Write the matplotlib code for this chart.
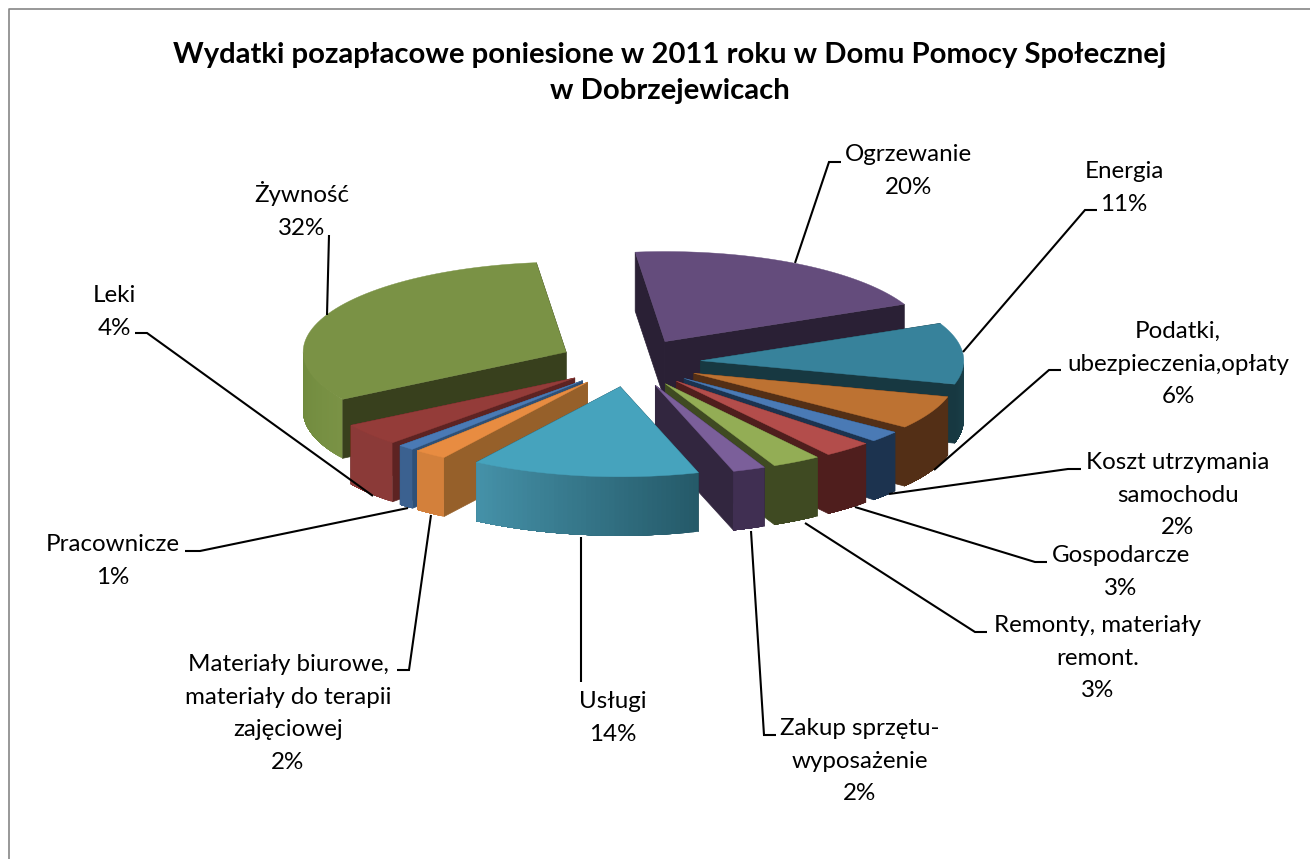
import numpy as np
import matplotlib
matplotlib.use("Agg")
import matplotlib.pyplot as plt
from matplotlib.colors import to_rgb
from matplotlib.patches import Polygon

plt.rcParams['font.family'] = ['Lato', 'DejaVu Sans']

title = "Wydatki pozapłacowe poniesione w 2011 roku w Domu Pomocy Społecznej\nw Dobrzejewicach"

# data, clockwise from the top of the pie
categories = ["Ogrzewanie", "Energia", "Podatki,\nubezpieczenia,opłaty",
              "Koszt utrzymania\nsamochodu", "Gospodarcze", "Remonty, materiały\nremont.",
              "Zakup sprzętu-\nwyposażenie", "Usługi",
              "Materiały biurowe,\nmateriały do terapii\nzajęciowej",
              "Pracownicze", "Leki", "Żywność"]
values = [20, 11, 6, 2, 3, 3, 2, 14, 2, 1, 4, 32]

# colours: top face, cut faces, outer wall left and right end
top_colors = ["#644c7c", "#37829b", "#bd7232", "#4a7ab5", "#b34d4b", "#93ad55",
              "#7b5f9a", "#46a3bd", "#e88c41", "#4a7ab5", "#943c39", "#7a9245"]
cut_colors = ["#2a2035", "#173841", "#532f16", "#1c334f", "#4f1e1d", "#3f4a22",
              "#32263f", "#1f4a57", "#96602a", "#2e5077", "#5d2322", "#38401d"]
wall_left = ["#2a2035", "#173841", "#532f16", "#1c334f", "#4f1e1d", "#3f4a22",
             "#402f52", "#4591a8", "#d3803b", "#3b6190", "#8b3a38", "#6f8a3d"]
wall_right = ["#2a2035", "#1b424c", "#532f16", "#1c334f", "#4f1e1d", "#3f4a22",
              "#402f52", "#255a69", "#d3803b", "#3b6190", "#8b3a38", "#7a9245"]

# pie geometry in pixels
cx, cy = 630, 362.7
rx, ry = 263, 90
depth = 59
explode = 0.27
start_angle = -6.5

# label placement: centre x, first baseline
label_pos = [(908, 161), (1124, 178), (1178, 338), (1178, 469), (1121, 562), (1098, 632),
             (860, 735), (613, 708), (288, 671), (113, 551), (114, 302), (302, 202)]
line_step = 32.6

leaders = [
    [(795, 263), (829, 162), (841, 162)],
    [(963, 352), (1085, 210), (1097, 210)],
    [(934, 470), (1049, 370), (1061, 370)],
    [(889, 494), (1068, 469), (1081, 469)],
    [(855, 507), (1035, 562), (1047, 562)],
    [(805, 523), (975, 632), (987, 632)],
    [(751, 531), (764, 735), (776, 735)],
    [(581, 537), (581, 682)],
    [(431, 515), (409, 670), (397, 670)],
    [(408, 508), (200, 551), (185, 551)],
    [(373, 496), (147, 333), (135, 333)],
    [(327, 315), (329, 235)],
]

fig = plt.figure(figsize=(13.10, 8.59), dpi=100)
ax = fig.add_axes([0, 0, 1, 1])
ax.set_xlim(0, 1310)
ax.set_ylim(859, 0)
ax.axis('off')

# chart frame, only left and top fall inside the picture
ax.plot([9, 9, 1320], [870, 8.5, 8.5], color='#868686', lw=1.2, zorder=1, clip_on=False)


def arc(ox, oy, a0, a1, n=60):
    t = np.radians(np.linspace(a0, a1, n))
    return np.column_stack([ox + rx * np.sin(t), oy - ry * np.cos(t)])


def draw_slice(i, a0, a1):
    mid = np.radians((a0 + a1) / 2)
    ox = cx + explode * rx * np.sin(mid)
    oy = cy - explode * ry * np.cos(mid)
    lift = np.array([0, depth])
    apex = np.array([ox, oy])

    # cut faces, the one further back first
    ends = sorted([a0, a1], key=lambda a: -np.cos(np.radians(a)))
    for a in ends:
        p = arc(ox, oy, a, a, 1)[0]
        ax.add_patch(Polygon([apex, p, p + lift, apex + lift], closed=True,
                             fc=cut_colors[i], ec=cut_colors[i], lw=0.5, zorder=3))

    # outer wall only where it faces the viewer
    # each strip runs to the end of the wall, the next one paints over it, so no seams
    w0, w1 = max(a0, 90), min(a1, 270)
    if w1 > w0:
        c_r, c_l = np.array(to_rgb(wall_right[i])), np.array(to_rgb(wall_left[i]))
        pts = arc(ox, oy, w0, w1, 50)
        for k in range(len(pts) - 1):
            f = k / (len(pts) - 2)
            col = c_r + (c_l - c_r) * f
            rest = pts[k:]
            ax.add_patch(Polygon(np.vstack([rest, rest[::-1] + lift]), closed=True,
                                 fc=col, ec='none', zorder=3))

    top = np.vstack([apex, arc(ox, oy, a0, a1)])
    ax.add_patch(Polygon(top, closed=True, fc=top_colors[i], ec=top_colors[i], lw=0.3, zorder=3))


edges = start_angle + np.concatenate([[0], np.cumsum(values)]) * 360 / sum(values)
mids = (edges[:-1] + edges[1:]) / 2
for i in sorted(range(len(values)), key=lambda j: -np.cos(np.radians(mids[j]))):
    draw_slice(i, edges[i], edges[i + 1])

for pts in leaders:
    xs, ys = zip(*pts)
    ax.plot(xs, ys, color='black', lw=1.5, zorder=4, solid_capstyle='butt', solid_joinstyle='miter')

for name, v, (x, y) in zip(categories, values, label_pos):
    for k, line in enumerate(name.split("\n") + [f"{v}%"]):
        ax.text(x, y + k * line_step, line, ha='center', va='baseline', fontsize=17.4,
                color='black', zorder=5)

for k, line in enumerate(title.split("\n")):
    ax.text(670, 63 + k * 36.5, line, ha='center', va='baseline', fontsize=21.1,
            fontweight='bold', color='black', zorder=5)

fig.savefig("out.png", dpi=100, facecolor='white')
